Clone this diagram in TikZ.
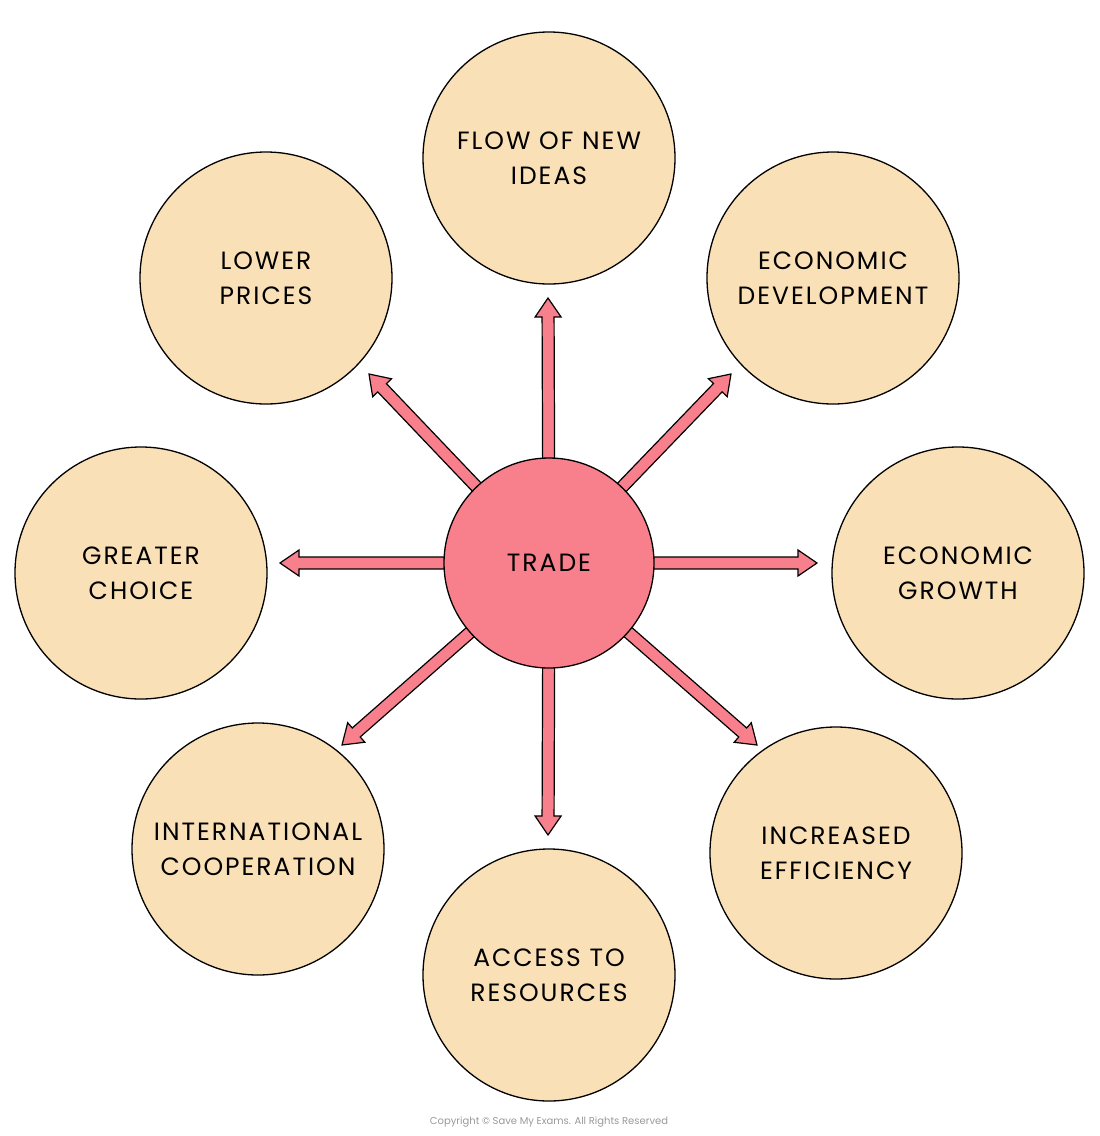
\documentclass[tikz,border=0pt]{standalone}
\usepackage{fontspec}
\setmainfont{Poppins}[LetterSpace=8]
\newfontfamily\copyfont{Poppins}
\usetikzlibrary{calc}
\definecolor{peach}{RGB}{249,224,183}
\definecolor{tradepink}{RGB}{248,128,141}
\begin{document}
\begin{tikzpicture}[x=1pt,y=-1pt,
  bubble/.style={circle,draw=black,line width=1.3pt,fill=peach,minimum size=252pt,inner sep=0pt,align=center,font=\fontsize{25}{35}\selectfont},
  hub/.style={circle,draw=black,line width=1.3pt,fill=tradepink,minimum size=210pt,inner sep=0pt,font=\fontsize{25}{28}\selectfont},
  fat/.style={draw=black,line width=1.2pt,fill=tradepink,line join=miter}]
\useasboundingbox (0,0) rectangle (1100,1136);
\coordinate (c) at (549,563);
\node[bubble] (top) at (549,158) {FLOW OF NEW\\IDEAS};
\node[bubble] (ur) at (833,278) {ECONOMIC\\DEVELOPMENT};
\node[bubble] (r) at (958,573) {ECONOMIC\\GROWTH};
\node[bubble] (lr) at (836,853) {INCREASED\\EFFICIENCY};
\node[bubble] (b) at (549,975) {ACCESS TO\\RESOURCES};
\node[bubble] (ll) at (258,849) {INTERNATIONAL\\COOPERATION};
\node[bubble] (l) at (141,573) {GREATER\\CHOICE};
\node[bubble] (ul) at (266,278) {LOWER\\PRICES};
\coordinate (t1) at (548,298);
\coordinate (t2) at (731,374);
\coordinate (t3) at (817,563);
\coordinate (t4) at (757,745);
\coordinate (t5) at (548,835);
\coordinate (t6) at (342,745);
\coordinate (t7) at (280,563);
\coordinate (t8) at (369,374);
\foreach \i in {1,...,8}{
  \coordinate (s\i) at ($(c)!60pt!(t\i)$);
  \coordinate (h\i) at ($(t\i)!19pt!(c)$);
  \draw[fat] ($(s\i)!6pt!90:(t\i)$) -- ($(h\i)!6pt!-90:(c)$) -- ($(h\i)!13pt!-90:(c)$) -- (t\i)
    -- ($(h\i)!13pt!90:(c)$) -- ($(h\i)!6pt!90:(c)$) -- ($(s\i)!6pt!-90:(t\i)$) -- cycle;
}
\node[hub] (trade) at (c) {TRADE};
\node[text=gray!80,font=\copyfont\fontsize{10}{11}\selectfont] (copy) at (549,1122) {Copyright © Save My Exams. All Rights Reserved};
\end{tikzpicture}
\end{document}
